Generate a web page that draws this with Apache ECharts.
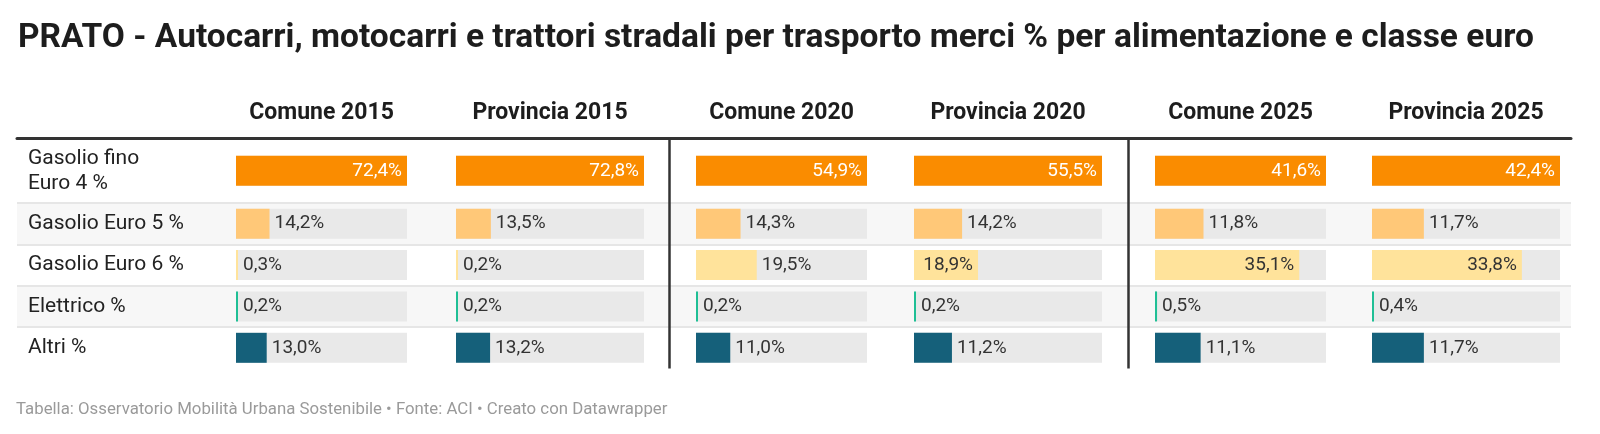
<!DOCTYPE html>
<html><head><meta charset="utf-8">
<script src="https://cdn.jsdelivr.net/npm/echarts@6/dist/echarts.min.js"></script>
<style>html,body{margin:0;padding:0;background:#fff}#c{width:1600px;height:434px}</style>
</head><body><div id="c"></div>
<script>
const titleText = 'PRATO - Autocarri, motocarri e trattori stradali per trasporto merci % per alimentazione e classe euro';
const footerText = 'Tabella: Osservatorio Mobilità Urbana Sostenibile • Fonte: ACI • Creato con Datawrapper';
const categories = ['Gasolio fino\nEuro 4 %', 'Gasolio Euro 5 %', 'Gasolio Euro 6 %', 'Elettrico %', 'Altri %'];
const columns = ['Comune 2015', 'Provincia 2015', 'Comune 2020', 'Provincia 2020', 'Comune 2025', 'Provincia 2025'];
const comune2015 = [72.4, 14.2, 0.3, 0.2, 13.0];
const provincia2015 = [72.8, 13.5, 0.2, 0.2, 13.2];
const comune2020 = [54.9, 14.3, 19.5, 0.2, 11.0];
const provincia2020 = [55.5, 14.2, 18.9, 0.2, 11.2];
const comune2025 = [41.6, 11.8, 35.1, 0.5, 11.1];
const provincia2025 = [42.4, 11.7, 33.8, 0.4, 11.7];
const values = [comune2015, provincia2015, comune2020, provincia2020, comune2025, provincia2025];

// styling / layout
const rowColors = ['#fa8c00', '#ffc878', '#ffe39b', '#1fbf95', '#15607a'];
const trackLeft = [236, 456, 696, 914, 1155, 1372];
const trackWidth = [171, 188, 171, 188, 171, 188];
const FONT = 'Roboto';
const topRow = {top: 138.5, height: 64.5};
const restRows = {top: 203, height: 165.5};

const fmt = v => v.toFixed(1).replace('.', ',') + '%';

const grid = [
  {left: 17, right: 29, top: topRow.top, height: topRow.height},
  {left: 17, right: 29, top: restRows.top, height: restRows.height}
];
const xAxis = [
  {gridIndex: 0, type: 'value', min: 0, max: 1, position: 'top', show: true,
   axisLine: {show: true, lineStyle: {color: '#333', width: 3}}, axisTick: {show: false},
   axisLabel: {show: false}, splitLine: {show: false}},
  {gridIndex: 1, type: 'value', min: 0, max: 1, show: false}
];
const rowLabelBase = {inside: true, margin: 11, fontFamily: FONT, fontSize: 21, color: '#222',
                      lineHeight: 25, align: 'left'};
const yAxis = [
  {gridIndex: 0, type: 'category', inverse: true, data: categories.slice(0, 1),
   axisLine: {show: false}, axisTick: {show: false},
   axisLabel: Object.assign({}, rowLabelBase, {padding: [10, 0, 0, 0]}), splitLine: {show: false}},
  {gridIndex: 1, type: 'category', inverse: true, data: categories.slice(1),
   axisLine: {show: false}, axisTick: {show: false},
   axisLabel: Object.assign({}, rowLabelBase, {padding: [8, 0, 0, 0]}),
   splitArea: {show: true, areaStyle: {color: ['#f7f7f7', '#ffffff']}},
   splitLine: {show: true, showMaxLine: false, lineStyle: {color: '#e6e6e6', width: 2}}}
];
const series = [];

columns.forEach((name, c) => {
  const vals = values[c];
  const max = Math.max.apply(null, vals);
  const mkItem = (v, r) => {
    const px = v / max * trackWidth[c];
    const inside = px > 62;
    return {
      value: v,
      itemStyle: {color: rowColors[r]},
      label: {position: inside ? 'insideRight' : 'right',
              color: (inside && r === 0) ? '#ffffff' : '#333333'}
    };
  };
  [[0, 1], [1, 5]].forEach(([a, b], part) => {
    const gi = grid.length;
    const rows = part === 0 ? topRow : restRows;
    grid.push({left: trackLeft[c], width: trackWidth[c], top: rows.top, height: rows.height});
    xAxis.push(part === 0 ? {
      gridIndex: gi, type: 'value', min: 0, max: max, position: 'top', show: true,
      name: name, nameLocation: 'middle', nameGap: 14,
      nameTextStyle: {fontFamily: FONT, fontSize: 23, fontWeight: 'bold', color: '#1d1d1d'},
      axisLine: {show: false}, axisTick: {show: false}, axisLabel: {show: false}, splitLine: {show: false}
    } : {gridIndex: gi, type: 'value', min: 0, max: max, show: false});
    yAxis.push({gridIndex: gi, type: 'category', inverse: true, data: categories.slice(a, b), show: false});
    series.push({
      type: 'bar', xAxisIndex: gi, yAxisIndex: gi, barWidth: 30, barMinHeight: 2,
      showBackground: true, backgroundStyle: {color: '#e9e9e9'},
      label: {show: true, distance: 5, fontFamily: FONT, fontSize: 19, padding: [4, 0, 0, 0],
              formatter: p => fmt(p.value)},
      data: vals.slice(a, b).map((v, i) => mkItem(v, a + i))
    });
  });
});

const option = {
  animation: false,
  title: [
    {text: titleText, left: 13, top: 17,
     textStyle: {fontFamily: FONT, fontWeight: 'bold', fontSize: 33.5, color: '#1d1d1d'}},
    {text: footerText, left: 11, top: 396,
     textStyle: {fontFamily: FONT, fontWeight: 'normal', fontSize: 16.8, color: '#9a9a9a'}}
  ],
  graphic: [
    {type: 'line', shape: {x1: 669.5, y1: 138, x2: 669.5, y2: 368.5}, style: {stroke: '#333', lineWidth: 2.5}, z: 10},
    {type: 'line', shape: {x1: 1128.5, y1: 138, x2: 1128.5, y2: 368.5}, style: {stroke: '#333', lineWidth: 2.5}, z: 10}
  ],
  grid, xAxis, yAxis, series
};
echarts.init(document.getElementById('c'), null, {renderer: 'canvas'}).setOption(option);
</script></body></html>
